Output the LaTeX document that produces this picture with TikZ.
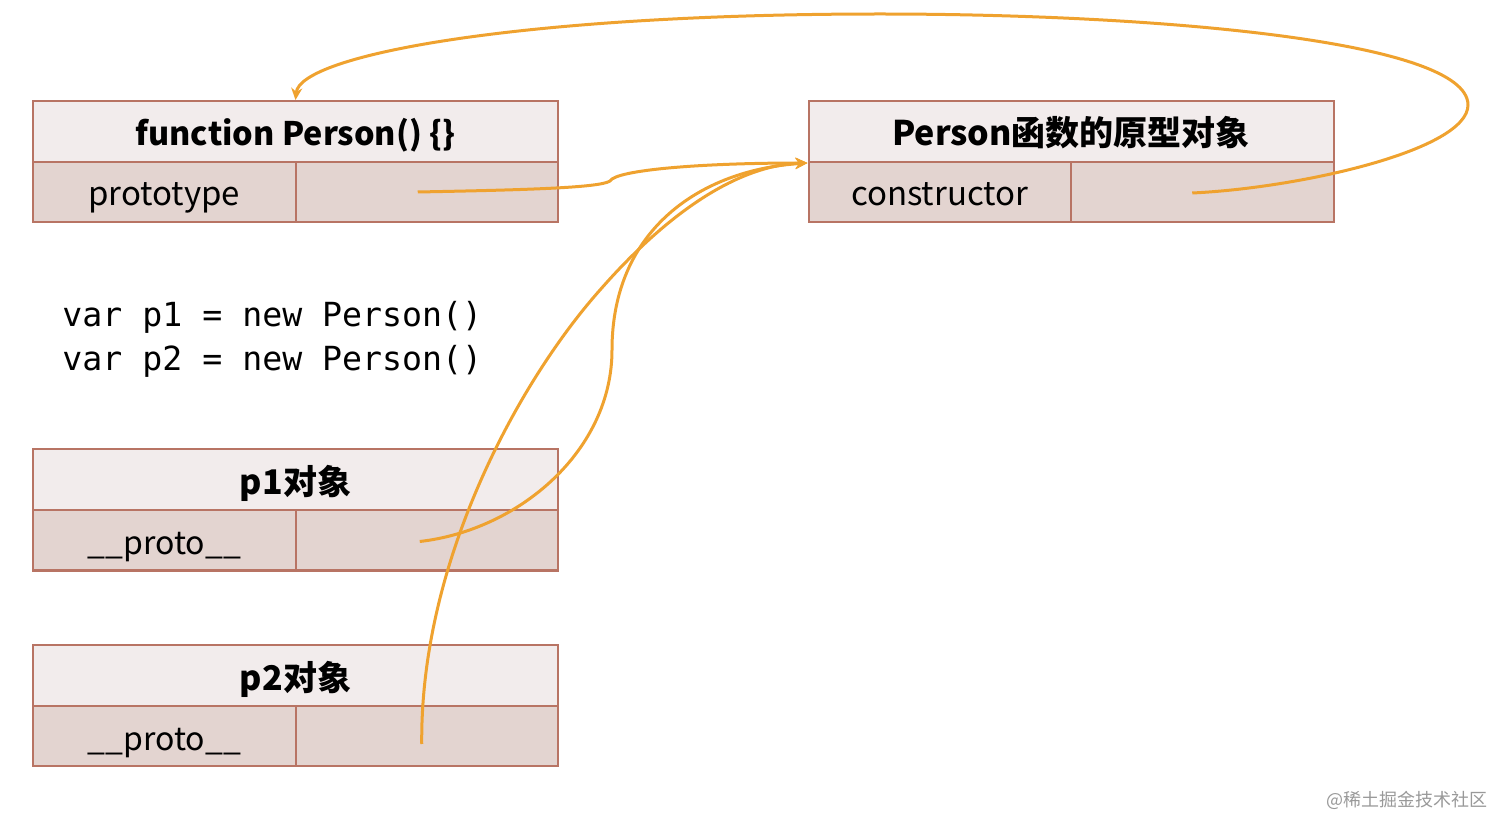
\documentclass[tikz,border=0pt]{standalone}
\usepackage{fontspec}
\setmainfont{Noto Sans CJK SC}
\newfontfamily\codefont{DejaVu Sans Mono}
\usetikzlibrary{arrows.meta,calc}
\definecolor{edgec}{HTML}{B87464}
\definecolor{topc}{HTML}{F2ECEC}
\definecolor{botc}{HTML}{E3D4D0}
\definecolor{linkc}{HTML}{EFA22F}
\tikzset{
  titlecell/.style={draw=edgec,fill=topc,line width=1pt,minimum width=262.5pt,minimum height=30.5pt,inner sep=0pt,text height=14.5pt,text depth=0pt,font=\fontsize{17}{20}\selectfont\bfseries},
  fieldcell/.style={draw=edgec,fill=botc,line width=1pt,minimum width=131.25pt,minimum height=30pt,inner sep=0pt,text height=14pt,text depth=0pt,font=\fontsize{16.5}{20}\selectfont},
  link/.style={draw=linkc,line width=1.5pt},
  tip/.style={-{Stealth[length=6pt,width=5.5pt]}},
}
\begin{document}
\begin{tikzpicture}[x=0.5pt,y=-0.5pt]
\useasboundingbox (0,0) rectangle (1512,834);
% Person function box
\node[titlecell,font=\fontsize{16.2}{20}\selectfont\bfseries] (b1t) at (295.5,131.5) {function Person() \{\}};
\node[fieldcell] (b1l) at (164.25,192) {prototype};
\node[fieldcell] (b1r) at (426.75,192) {};
% prototype object
\node[titlecell] (b2t) at (1071,131.5) {Person函数的原型对象};
\node[fieldcell] (b2l) at (939.75,192) {constructor};
\node[fieldcell] (b2r) at (1202.25,192) {};
% code
\node[anchor=west,font=\codefont\fontsize{16.6}{22}\selectfont,align=left,inner sep=0pt] (code) at (62,339) {var p1 = new Person()\\var p2 = new Person()};
% p1
\node[titlecell] (p1t) at (295.5,480) {p1对象};
\node[fieldcell,font=\fontsize{16}{20}\selectfont] (p1l) at (164.25,540.5) {\_\_proto\_\_};
\node[fieldcell] (p1r) at (426.75,540.5) {};
% p2
\node[titlecell] (p2t) at (295.5,675.5) {p2对象};
\node[fieldcell,font=\fontsize{16}{20}\selectfont] (p2l) at (164.25,736) {\_\_proto\_\_};
\node[fieldcell] (p2r) at (426.75,736) {};
% connector anchors
\coordinate (s1) at ([xshift=-4.5pt]b1r.center);
\coordinate (s2) at ([xshift=-5pt,yshift=-0.5pt]b2r.center);
\coordinate (s3) at ([xshift=-3.5pt,yshift=-0.5pt]p1r.center);
\coordinate (s4) at ([xshift=-2.5pt,yshift=-4pt]p2r.center);
% prototype -> prototype object
\draw[link,tip] (s1) .. controls (520,190) and (600,188) .. (610,181)
  .. controls (616,170) and (700,163) .. (b2t.south west);
% p1 __proto__
\draw[link,tip] (s3) .. controls (520,530) and (612,450) .. (612,350)
  .. controls (612,230) and (700,170) .. (b2t.south west);
% p2 __proto__
\draw[link,tip] (s4) .. controls (420,560) and (520,380) .. (600,290)
  .. controls (670,210) and (740,165) .. (b2t.south west);
% constructor -> function
\draw[link,tip] (s2) .. controls (1300,188) and (1468,150) .. (1468,105)
  .. controls (1468,40) and (1150,14) .. (880,14)
  .. controls (520,14) and (300,55) .. (b1t.north);
% watermark
\node[anchor=east,font=\fontsize{9}{10}\selectfont,text=gray!80,inner sep=0pt] (wm) at (1488,800) {@稀土掘金技术社区};
\end{tikzpicture}
\end{document}
